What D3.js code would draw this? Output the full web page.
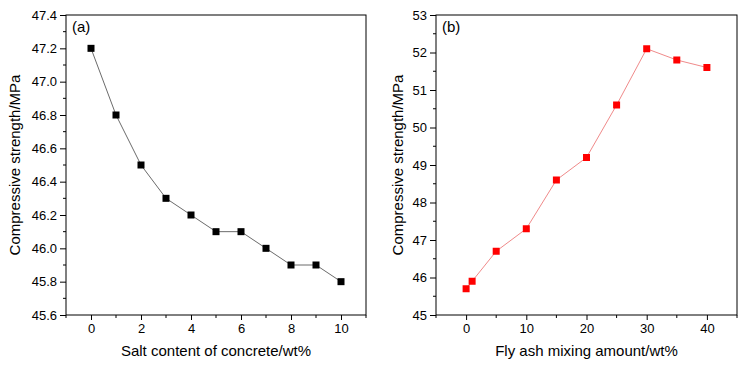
<!DOCTYPE html>
<html>
<head>
<meta charset="utf-8">
<script src="https://cdn.jsdelivr.net/npm/d3@7"></script>
<style>
  body { margin: 0; background: #fff; }
  svg text { font-family: "Liberation Sans", Arial, sans-serif; fill: #000; }
</style>
</head>
<body>
<svg width="746" height="365"></svg>
<script>
// panel (a): salt content
const saltX = [0, 1, 2, 3, 4, 5, 6, 7, 8, 9, 10];
const saltY = [47.2, 46.8, 46.5, 46.3, 46.2, 46.1, 46.1, 46.0, 45.9, 45.9, 45.8];
const saltXTicks = [0, 2, 4, 6, 8, 10];
const saltYTicks = [45.6, 45.8, 46.0, 46.2, 46.4, 46.6, 46.8, 47.0, 47.2, 47.4];

// panel (b): fly ash
const ashX = [0, 1, 5, 10, 15, 20, 25, 30, 35, 40];
const ashY = [45.7, 45.9, 46.7, 47.3, 48.6, 49.2, 50.6, 52.1, 51.8, 51.6];
const ashXTicks = [0, 10, 20, 30, 40];
const ashYTicks = [45, 46, 47, 48, 49, 50, 51, 52, 53];

const svg = d3.select('svg');

const panels = [
  {
    left: 66, right: 366, top: 15, bottom: 315,
    xDom: [-1, 11], yDom: [45.6, 47.4],
    xs: saltX, ys: saltY, xTicks: saltXTicks, yTicks: saltYTicks,
    xMinor: 1, yMinor: 0.1, yFmt: d3.format('.1f'),
    label: '(a)', xTitle: 'Salt content of concrete/wt%', yTitleX: 15,
    line: '#6b6b6b', mark: '#000'
  },
  {
    left: 436, right: 737, top: 15, bottom: 315,
    xDom: [-5, 45], yDom: [45, 53],
    xs: ashX, ys: ashY, xTicks: ashXTicks, yTicks: ashYTicks,
    xMinor: 5, yMinor: 0.5, yFmt: d3.format('d'),
    label: '(b)', xTitle: 'Fly ash mixing amount/wt%', yTitleX: 398,
    line: '#f08a8a', mark: '#ff0000'
  }
];

panels.forEach(p => {
  const x = d3.scaleLinear().domain(p.xDom).range([p.left, p.right]);
  const y = d3.scaleLinear().domain(p.yDom).range([p.bottom, p.top]);
  const g = svg.append('g');

  // minor ticks
  const xMinorTicks = d3.range(p.xDom[0], p.xDom[1] + 1e-9, p.xMinor)
    .filter(v => !p.xTicks.some(t => Math.abs(t - v) < 1e-9));
  const yMinorTicks = d3.range(p.yDom[0], p.yDom[1] + 1e-9, p.yMinor)
    .filter(v => !p.yTicks.some(t => Math.abs(t - v) < 1e-9));

  const xAxis = g.append('g')
    .attr('transform', `translate(0,${p.bottom})`)
    .call(d3.axisBottom(x).tickValues(p.xTicks).tickSizeInner(5).tickSizeOuter(0).tickPadding(4));
  xAxis.append('g').selectAll('line').data(xMinorTicks).enter().append('line')
    .attr('x1', d => x(d)).attr('x2', d => x(d))
    .attr('y1', 0).attr('y2', 3).attr('stroke', '#000');

  const yAxis = g.append('g')
    .attr('transform', `translate(${p.left},0)`)
    .call(d3.axisLeft(y).tickValues(p.yTicks).tickFormat(p.yFmt).tickSizeInner(6).tickSizeOuter(0).tickPadding(3));
  yAxis.append('g').selectAll('line').data(yMinorTicks).enter().append('line')
    .attr('y1', d => y(d)).attr('y2', d => y(d))
    .attr('x1', 0).attr('x2', -3).attr('stroke', '#000');

  g.selectAll('.tick text').style('font-size', '13px');
  g.selectAll('.domain').remove();

  // frame
  g.append('rect')
    .attr('x', p.left).attr('y', p.top)
    .attr('width', p.right - p.left).attr('height', p.bottom - p.top)
    .attr('fill', 'none').attr('stroke', '#000').attr('stroke-width', 1);

  const pts = p.xs.map((v, i) => [v, p.ys[i]]);

  g.append('path')
    .datum(pts)
    .attr('fill', 'none')
    .attr('stroke', p.line)
    .attr('stroke-width', 1)
    .attr('d', d3.line().x(d => x(d[0])).y(d => y(d[1])));

  g.selectAll('rect.pt').data(pts).enter().append('rect')
    .attr('class', 'pt')
    .attr('x', d => x(d[0]) - 3.5)
    .attr('y', d => y(d[1]) - 3.5)
    .attr('width', 7).attr('height', 7)
    .attr('fill', p.mark);

  g.append('text')
    .attr('x', p.left + 6).attr('y', p.top + 17)
    .style('font-size', '15px')
    .text(p.label);

  g.append('text')
    .attr('x', (p.left + p.right) / 2).attr('y', 356)
    .attr('text-anchor', 'middle')
    .style('font-size', '15px')
    .text(p.xTitle);

  g.append('text')
    .attr('transform', `translate(${p.yTitleX},${(p.top + p.bottom) / 2}) rotate(-90)`)
    .attr('text-anchor', 'middle')
    .attr('dy', '0.35em')
    .style('font-size', '15px')
    .text('Compressive strength/MPa');
});
</script>
</body>
</html>
